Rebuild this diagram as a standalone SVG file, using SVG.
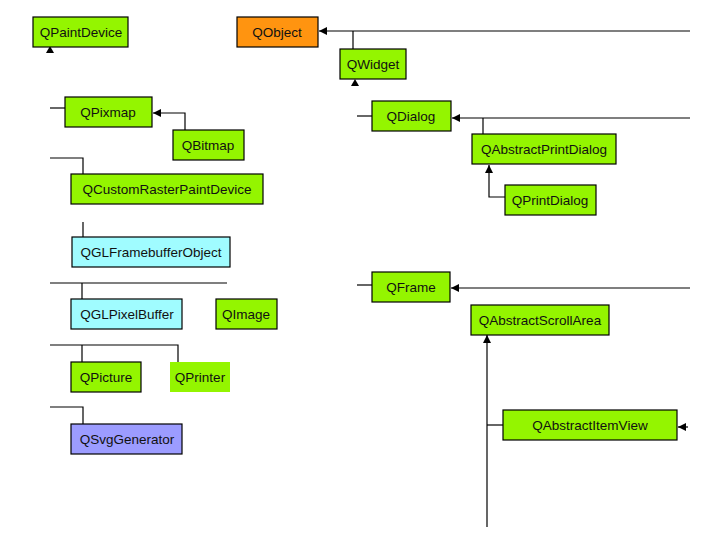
<svg xmlns="http://www.w3.org/2000/svg" width="720" height="540" viewBox="0 0 720 540">
<style>
.n{stroke:#000;stroke-width:1.2}
.g{fill:#94F500}
.o{fill:#FF9410}
.c{fill:#A0FCFF}
.p{fill:#9C9CFF}
text{font-family:"Liberation Sans",Arial,sans-serif;font-size:13.5px;fill:#111;text-anchor:middle;dominant-baseline:central}
.l{fill:none;stroke:#000;stroke-width:1.2}
</style>
<defs>
<marker id="a" viewBox="0 0 10 10" refX="10" refY="5" markerWidth="8" markerHeight="8" orient="auto" markerUnits="userSpaceOnUse">
<path d="M0,0L10,5L0,10z" fill="#000"/>
</marker>
</defs>
<rect width="720" height="540" fill="#fff"/>
<g id="connectors">
<path class="l" d="M690,31H319" marker-end="url(#a)"/>
<path class="l" d="M353,31V49"/>
<path class="l" d="M690,118H452" marker-end="url(#a)"/>
<path class="l" d="M483,118V134"/>
<path class="l" d="M505,197H489V165" marker-end="url(#a)"/>
<path class="l" d="M357,116H372"/>
<path class="l" d="M50,108H65"/>
<path class="l" d="M185,130V113H153" marker-end="url(#a)"/>
<path class="l" d="M50,158H83V174"/>
<path class="l" d="M83,222V237"/>
<path class="l" d="M50,283H227M82,283V299"/>
<path class="l" d="M50,345H178V362M82,345V362"/>
<path class="l" d="M50,407H83V424"/>
<path class="l" d="M357,285H372"/>
<path class="l" d="M690,288H451" marker-end="url(#a)"/>
<path class="l" d="M487,527V335" marker-end="url(#a)"/>
<path class="l" d="M487,425H503"/>
<path class="l" d="M688,427H678" marker-end="url(#a)"/>
<path d="M46,53L50,46L54,53z" fill="#000"/>
<path d="M351,86L355,79L359,86z" fill="#000"/>
</g>
<g id="QPaintDevice"><rect class="n g" x="33" y="17" width="95" height="30"/><text x="81" y="32">QPaintDevice</text></g>
<g id="QObject"><rect class="n o" x="237" y="17" width="81" height="30"/><text x="277" y="32">QObject</text></g>
<g id="QWidget"><rect class="n g" x="340" y="49" width="66" height="30"/><text x="373" y="64">QWidget</text></g>
<g id="QDialog"><rect class="n g" x="372" y="101" width="79" height="30"/><text x="411" y="116">QDialog</text></g>
<g id="QAbstractPrintDialog"><rect class="n g" x="472" y="134" width="144" height="30"/><text x="544" y="149">QAbstractPrintDialog</text></g>
<g id="QPrintDialog"><rect class="n g" x="505" y="185" width="91" height="30"/><text x="550" y="200">QPrintDialog</text></g>
<g id="QPixmap"><rect class="n g" x="65" y="97" width="87" height="30"/><text x="108" y="112">QPixmap</text></g>
<g id="QBitmap"><rect class="n g" x="173" y="130" width="71" height="30"/><text x="208" y="145">QBitmap</text></g>
<g id="QCustomRasterPaintDevice"><rect class="n g" x="71" y="174" width="192" height="30"/><text x="167" y="189">QCustomRasterPaintDevice</text></g>
<g id="QGLFramebufferObject"><rect class="n c" x="72" y="237" width="158" height="30"/><text x="151" y="252">QGLFramebufferObject</text></g>
<g id="QGLPixelBuffer"><rect class="n c" x="71" y="299" width="111" height="30"/><text x="127" y="314">QGLPixelBuffer</text></g>
<g id="QImage"><rect class="n g" x="216" y="299" width="61" height="30"/><text x="246" y="314">QImage</text></g>
<g id="QPicture"><rect class="n g" x="71" y="362" width="70" height="30"/><text x="106" y="377">QPicture</text></g>
<g id="QPrinter"><rect class="g" x="170" y="362" width="60" height="30"/><text x="200" y="377">QPrinter</text></g>
<g id="QSvgGenerator"><rect class="n p" x="71" y="424" width="111" height="30"/><text x="127" y="439">QSvgGenerator</text></g>
<g id="QFrame"><rect class="n g" x="372" y="272" width="78" height="30"/><text x="411" y="287">QFrame</text></g>
<g id="QAbstractScrollArea"><rect class="n g" x="471" y="305" width="138" height="30"/><text x="540" y="320">QAbstractScrollArea</text></g>
<g id="QAbstractItemView"><rect class="n g" x="503" y="410" width="174" height="30"/><text x="590" y="425">QAbstractItemView</text></g>
</svg>
